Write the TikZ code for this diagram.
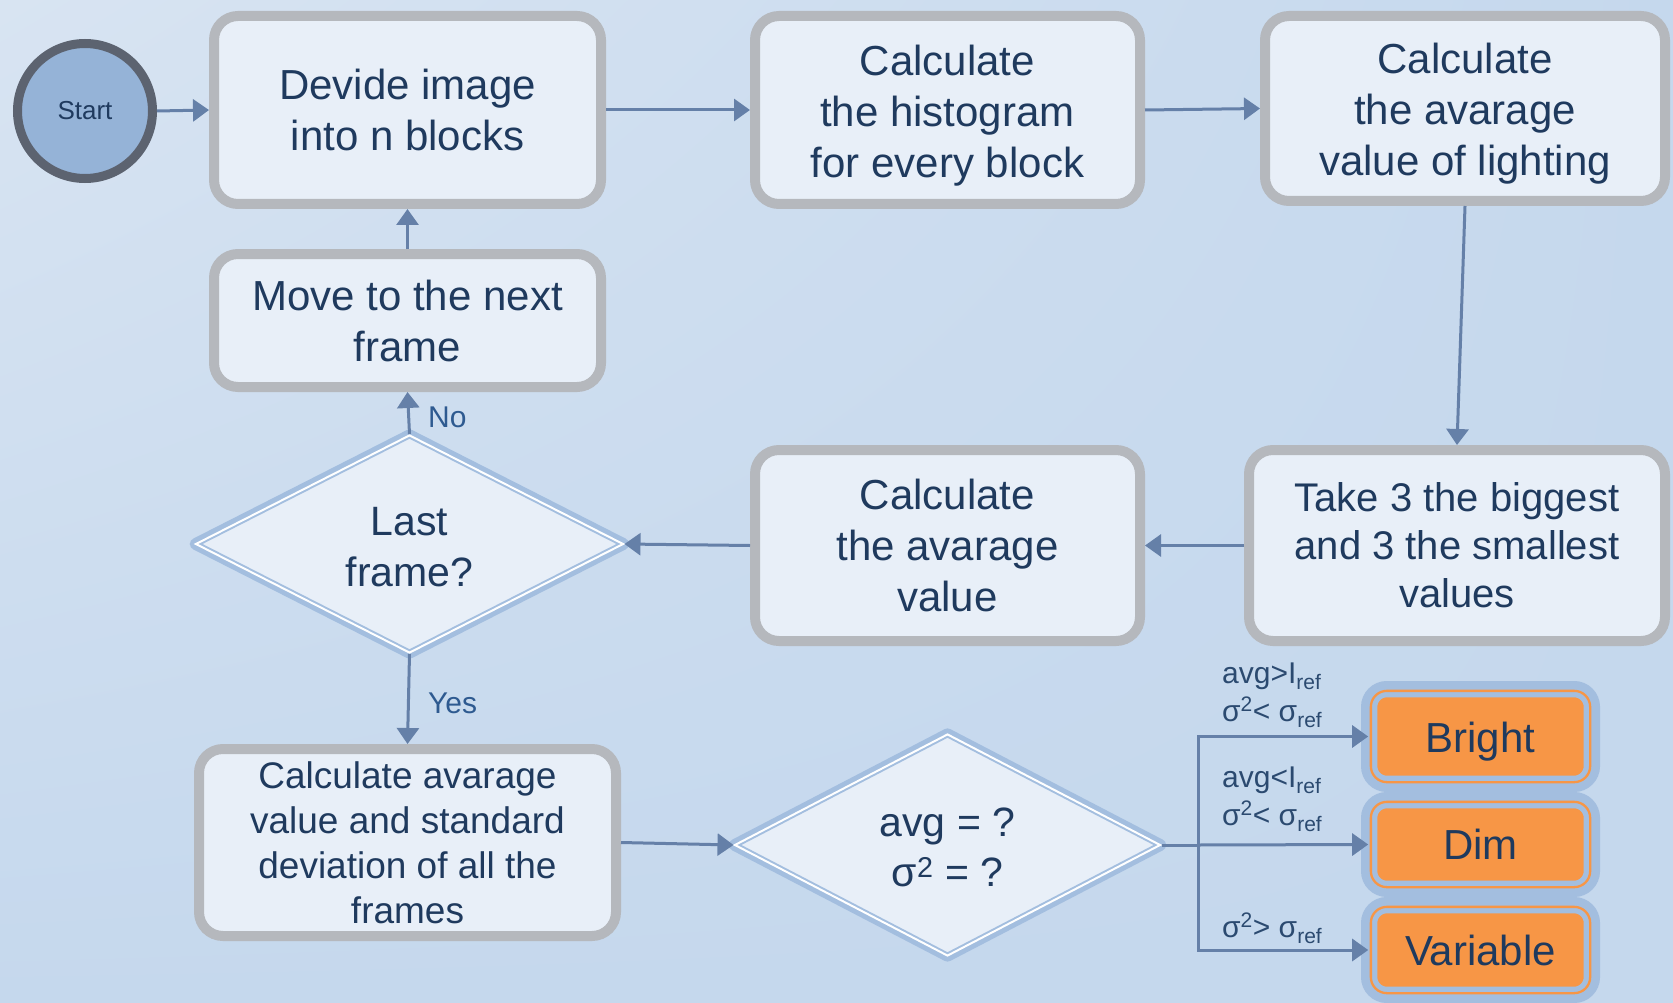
\documentclass[tikz,border=0pt]{standalone}
\usepackage{fontspec}
\setmainfont{Liberation Sans}
\usetikzlibrary{shapes.geometric,arrows.meta,shadings}
\definecolor{bgA}{HTML}{D8E4F2}
\definecolor{bgB}{HTML}{C5D8ED}
\definecolor{boxfill}{HTML}{E8EFF8}
\definecolor{boxline}{HTML}{B5B8BD}
\definecolor{txt}{HTML}{1F3A5E}
\definecolor{arrowc}{HTML}{6580A8}
\definecolor{dialine}{HTML}{A3BEDF}
\definecolor{orangec}{HTML}{F79646}
\definecolor{startfill}{HTML}{95B3D7}
\definecolor{startline}{HTML}{5C6370}
\definecolor{labc}{HTML}{2E5A90}
\definecolor{condc}{HTML}{2B4A70}
\newcommand\sbref{\textsubscript{ref}}
\newcommand\suptwo{\textsuperscript{2}}
\newcommand\tstrut[1]{\rule{0pt}{#1}}
\begin{document}
\begin{tikzpicture}[x=1pt,y=-1pt,
  box/.style={draw=boxline, line width=10pt, fill=boxfill, rounded corners=24pt,
    align=center, text=txt, font=\fontsize{42}{51}\selectfont, inner sep=0pt},
  dia/.style={diamond, preaction={draw=dialine, line width=12pt, line join=round},
    draw=dialine, double=white, double distance=2pt, line width=2pt,
    fill=boxfill, aspect=1.9, inner sep=0pt, align=center, text=txt,
    font=\fontsize{41}{51}\selectfont},
  res/.style={preaction={draw=dialine, line width=19.7pt},
    draw=dialine, double=orangec, double distance=2.3pt, line width=5.3pt,
    fill=orangec, rounded corners=16pt, inner sep=0pt, text=txt,
    font=\fontsize{42}{50}\selectfont, minimum width=219.3pt},
  startc/.style={circle, draw=startline, line width=9pt, fill=startfill,
    minimum size=135pt, inner sep=0pt, text=txt, font=\fontsize{26}{30}\selectfont},
  conn/.style={draw=arrowc, line width=3pt},
  arr/.style={conn, -{Triangle[length=16pt,width=22pt]}},
  lab/.style={text=labc, font=\fontsize{30}{36}\selectfont, inner sep=0pt},
  cond/.style={text=condc, font=\fontsize{30}{36}\selectfont, inner sep=0pt, anchor=base west}
]
\useasboundingbox (0,0) rectangle (1673,1003);
\clip (0,0) rectangle (1673,1003);
\shade[upper left=bgA, upper right=bgB, lower left=bgB, lower right=bgB] (0,0) rectangle (1673,1003);

\node[startc] (start) at (85,111) {Start};
\node[box, minimum width=387pt, minimum height=188pt] (divide) at (407.5,110) {Devide image\\into n blocks};
\node[box, minimum width=385pt, minimum height=188pt] (hist) at (947.5,110) {\tstrut{41pt}Calculate\\the histogram\\for every block};
\node[box, minimum width=400pt, minimum height=185pt] (light) at (1465,108.5) {\tstrut{40pt}Calculate\\the avarage\\value of lighting};
\node[box, minimum width=387pt, minimum height=133pt] (move) at (407.5,320.5) {Move to the next\\frame};
\node[dia, minimum width=428pt, minimum height=218pt] (last) at (409.5,544) {\tstrut{34pt}Last\\frame?};
\node[box, minimum width=385pt, minimum height=191pt] (calcavg) at (947.5,545.5) {Calculate\\the avarage\\value};
\node[box, minimum width=416pt, minimum height=191pt, font=\fontsize{40}{48}\selectfont] (take) at (1457,545.5) {Take 3 the biggest\\and 3 the smallest\\values};
\node[box, minimum width=417pt, minimum height=187pt, font=\fontsize{37}{45}\selectfont] (calcstd) at (407.5,842.5) {Calculate avarage\\value and standard\\deviation of all the\\frames};
\node[dia, minimum width=426pt, minimum height=222pt, font=\fontsize{41}{50}\selectfont] (ask) at (947.5,845) {\tstrut{33pt}avg = ?\\σ\suptwo{} = ?};
\node[res, minimum height=91.3pt, text height=40pt, text depth=9pt] (bright) at (1480.5,736.5) {Bright};
\node[res, minimum height=85.3pt] (dim) at (1480.5,844.5) {Dim};
\node[res, minimum height=86.3pt] (variable) at (1480.5,950) {Variable};

\draw[arr] (start.east) -- (divide.west);
\draw[arr] (divide.east) -- (hist.west);
\draw[arr] (hist.east) -- (light.west);
\draw[arr] (light.south) -- (take.north);
\draw[arr] (take.west) -- (calcavg.east);
\draw[arr] (calcavg.west) -- (last.east);
\draw[arr] (last.north) -- (move.south);
\node[lab, anchor=west] (no) at (428,417) {No};
\draw[arr] (move.north) -- (divide.south);
\draw[arr] (last.south) -- (calcstd.north);
\node[lab, anchor=west] (yes) at (428,703) {Yes};
\draw[arr] (calcstd.east) -- (ask.west);
\coordinate (br) at (1198,845);
\draw[conn] (ask.east) -- (br);
\draw[arr] (br) -- (dim.west);
\draw[arr] (br) |- (bright.west);
\draw[arr] (br) |- (variable.west);

\node[cond] (c1a) at (1222,683) {avg>I\sbref};
\node[cond] (c1b) at (1222,721) {σ\suptwo< σ\sbref};
\node[cond] (c2a) at (1222,787) {avg<I\sbref};
\node[cond] (c2b) at (1222,825) {σ\suptwo< σ\sbref};
\node[cond] (c3) at (1222,937) {σ\suptwo> σ\sbref};
\end{tikzpicture}
\end{document}
